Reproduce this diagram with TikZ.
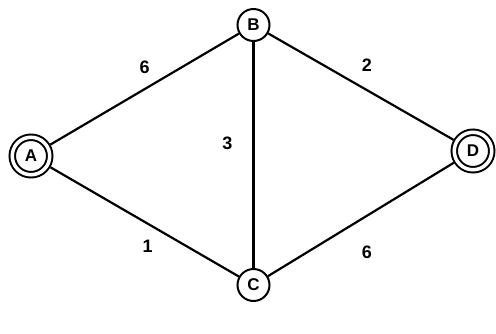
\documentclass[tikz,border=0pt]{standalone}
\usepackage{fontspec}
\setmainfont{Liberation Sans}
\usetikzlibrary{positioning}

\begin{document}
\begin{tikzpicture}[
  x=1pt, y=-1pt,
  vertex/.style={circle, draw, line width=2pt, minimum size=32pt, inner sep=0pt, font=\fontsize{17}{20}\selectfont\bfseries},
  endvertex/.style={vertex, double, double distance=3.5pt, minimum size=37.5pt, outer sep=3.7pt},
  edge/.style={line width=2.2pt},
  weight/.style={inner sep=0pt, font=\fontsize{18}{21}\selectfont\bfseries}
]
\useasboundingbox (0,0) rectangle (496,333);
\node[endvertex] (a) at (31,156) {A};
\node[vertex] (b) at (253.5,25) {B};
\node[vertex] (c) at (253.5,285) {C};
\node[endvertex] (d) at (473,151) {D};
\draw[edge] (a) -- node[weight, above=14pt] {6} (b);
\draw[edge] (b) -- node[weight, above=14pt, xshift=6pt] {2} (d);
\draw[edge] (b) -- node[weight, left=20pt, yshift=12pt] {3} (c);
\draw[edge] (a) -- node[weight, below=17pt, xshift=3pt] {1} (c);
\draw[edge] (c) -- node[weight, below=25pt, xshift=6pt] {6} (d);
\end{tikzpicture}
\end{document}
